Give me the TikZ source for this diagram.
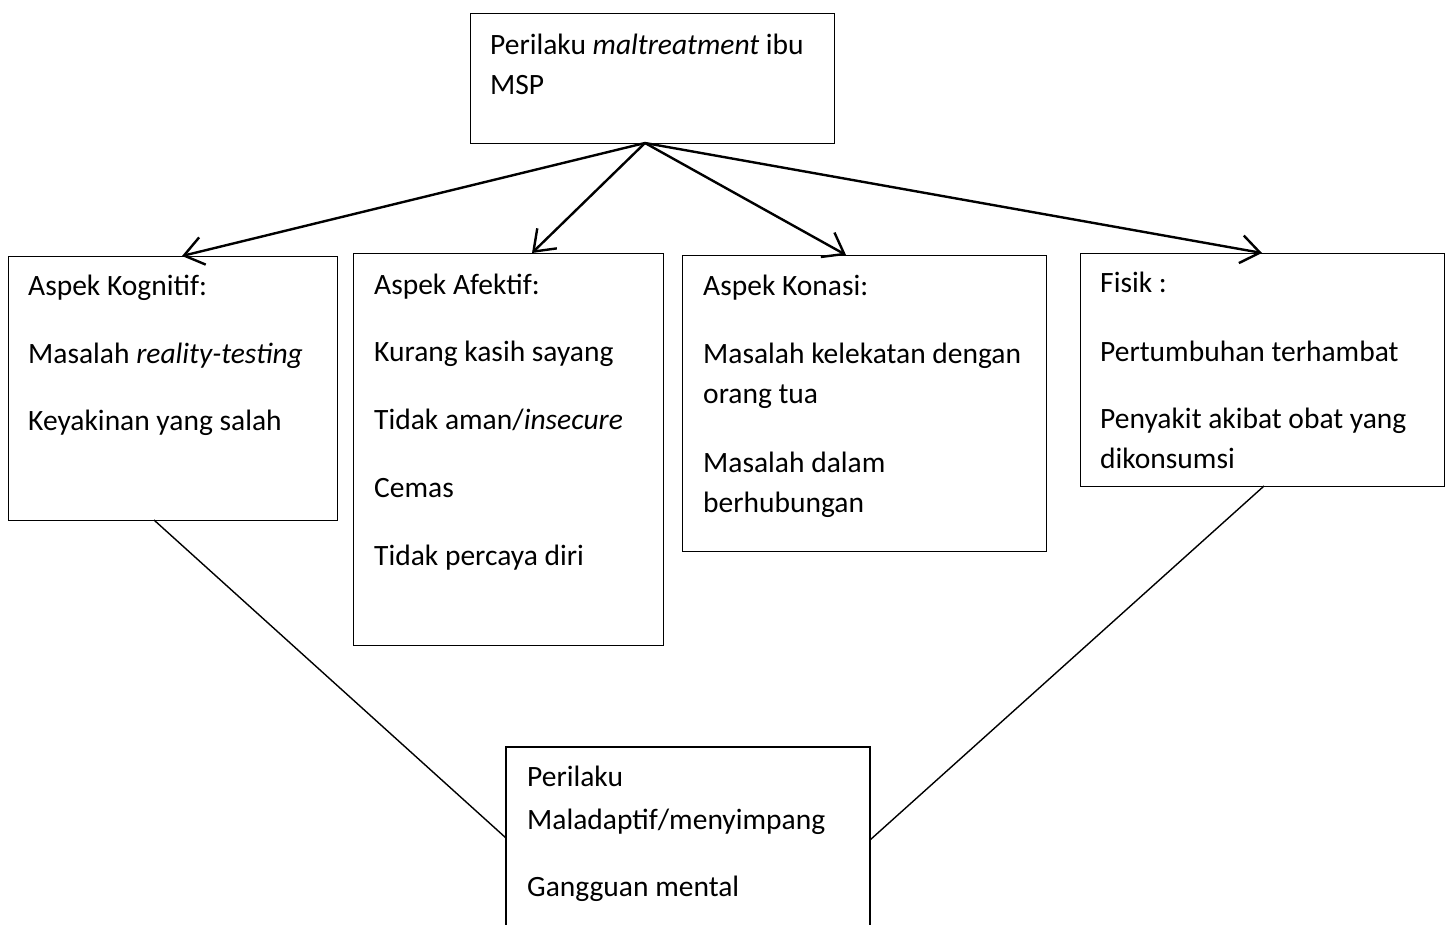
\documentclass[tikz,border=0pt]{standalone}
\usepackage{fontspec}
\setmainfont{Carlito}
\usetikzlibrary{arrows.meta}
\begin{document}
\begin{tikzpicture}[x=1pt,y=-1pt,
  box/.style={draw,line width=1.3pt,inner sep=0pt,anchor=north west},
  txt/.style={anchor=base west,inner sep=0pt,font=\fontsize{29.5}{40}\selectfont},
  arr/.style={line width=2.4pt,-{Straight Barb[length=19pt,width=28pt,line width=2.4pt]}},
  link/.style={line width=1.4pt}]
\useasboundingbox[fill=white] (0,0) rectangle (1451,925);
% boxes
\node[box,minimum width=364pt,minimum height=130pt] (top) at (470,13) {};
\node[box,minimum width=329pt,minimum height=264pt] (kog) at (8,256) {};
\node[box,minimum width=310pt,minimum height=392pt] (afe) at (353,253) {};
\node[box,minimum width=364pt,minimum height=296pt] (kon) at (682,255) {};
\node[box,minimum width=364pt,minimum height=233pt] (fis) at (1080,253) {};
\coordinate (bl) at (506,960);
\coordinate (br) at (870,960);
\coordinate (btl) at (506,747);
\coordinate (btr) at (870,747);
\draw[line width=1.3pt] (bl) -- (btl) -- (btr) -- (br);
% texts
\node[txt] (t1) at (490,55) {Perilaku \textit{maltreatment} ibu};
\node[txt] (t2) at (490,95) {MSP};
\node[txt] (k1) at (28,296) {Aspek Kognitif:};
\node[txt] (k2) at (28,363) {Masalah \textit{reality-testing}};
\node[txt] (k3) at (28,430) {Keyakinan yang salah};
\node[txt] (a1) at (374,295) {Aspek Afektif:};
\node[txt] (a2) at (374,361) {Kurang kasih sayang};
\node[txt] (a3) at (374,429) {Tidak aman/\textit{insecure}};
\node[txt] (a4) at (374,497) {Cemas};
\node[txt] (a5) at (374,565) {Tidak percaya diri};
\node[txt] (c1) at (703,296) {Aspek Konasi:};
\node[txt] (c2) at (703,363) {Masalah kelekatan dengan};
\node[txt] (c3) at (703,403) {orang tua};
\node[txt] (c4) at (703,472) {Masalah dalam};
\node[txt] (c5) at (703,512) {berhubungan};
\node[txt] (f1) at (1100,293) {Fisik :};
\node[txt] (f2) at (1100,361) {Pertumbuhan terhambat};
\node[txt] (f3) at (1100,428) {Penyakit akibat obat yang};
\node[txt] (f4) at (1100,468) {dikonsumsi};
\node[txt] (b1) at (527,786) {Perilaku};
\node[txt] (b2) at (527,829) {Maladaptif/menyimpang};
\node[txt] (b3) at (527,896) {Gangguan mental};
% arrows
\coordinate (src) at (645,143);
\coordinate (e1) at (182,256);
\coordinate (e2) at (532,253);
\coordinate (e3) at (846,255);
\coordinate (e4) at (1262,253);
\draw[arr] (src) -- (e1);
\draw[arr] (src) -- (e2);
\draw[arr] (src) -- (e3);
\draw[arr] (src) -- (e4);
% links
\coordinate (l1) at (154,520);
\coordinate (l2) at (506,838);
\coordinate (r1) at (1264,486);
\coordinate (r2) at (870,840);
\draw[link] (l1) -- (l2);
\draw[link] (r1) -- (r2);
\end{tikzpicture}
\end{document}
